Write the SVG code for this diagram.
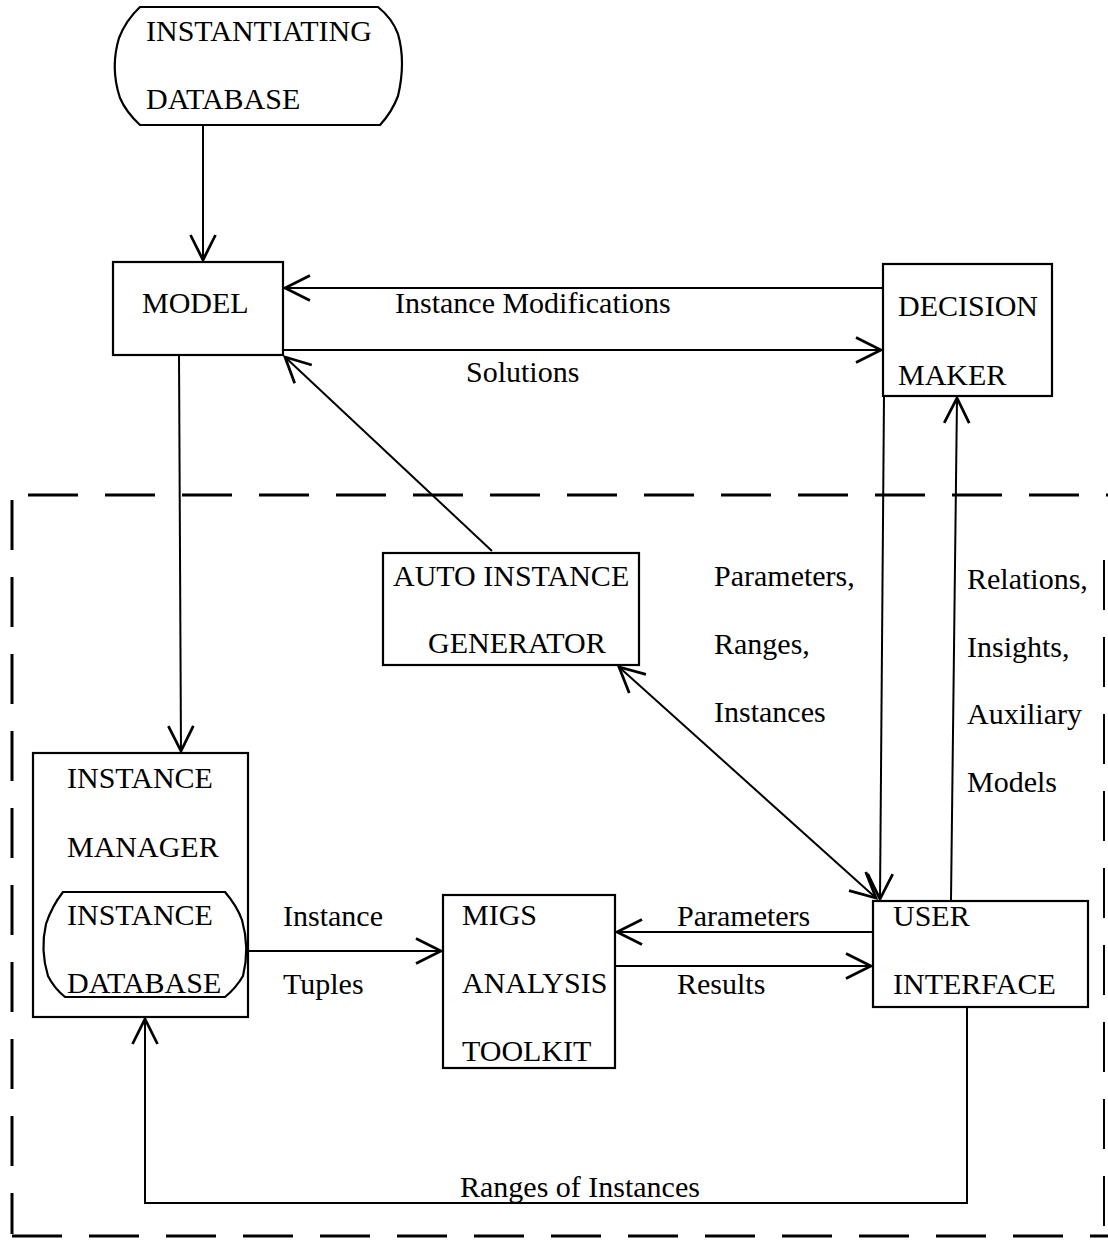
<svg xmlns="http://www.w3.org/2000/svg" width="1108" height="1242" viewBox="0 0 1108 1242">
  <style>
    .box { fill: none; stroke: #000; stroke-width: 2.2; }
    .edge { fill: none; stroke: #000; stroke-width: 2; }
    .dash { fill: none; stroke: #000; stroke-width: 3; stroke-dasharray: 50 27; }
    text { font-family: "Liberation Serif", "Times New Roman", serif; font-size: 30px; fill: #000; }
  </style>
  <defs>
    <marker id="arrow" markerUnits="userSpaceOnUse" markerWidth="30" markerHeight="30" refX="0" refY="0" viewBox="-22 -12 24 24" orient="auto-start-reverse">
      <path d="M-20,-10 L0,0 L-20,10" fill="none" stroke="#000" stroke-width="2.2"/>
    </marker>
  </defs>

  <rect width="1108" height="1242" fill="#fff"/>

  <!-- dashed boundary of the analysis subsystem -->
  <g id="boundary">
    <line class="dash" x1="28" y1="495" x2="1108" y2="495"/>
    <line class="dash" x1="12" y1="500" x2="12" y2="1234"/>
    <line class="dash" x1="12" y1="1236" x2="1108" y2="1236"/>
    <line class="dash" x1="1104" y1="560" x2="1104" y2="1234" style="stroke-width:2"/>
  </g>

  <!-- nodes -->
  <g id="instantiating-database">
    <path class="box" d="M140,7 L378,7 Q392,18 398,34 Q406,62 398,96 Q392,112 380,125 L140,125 Q126,112 120,98 Q110,68 119,38 Q126,20 140,7 Z"/>
    <text x="146" y="41">INSTANTIATING</text>
    <text x="146" y="109">DATABASE</text>
  </g>

  <g id="model">
    <rect class="box" x="113" y="262" width="170" height="93"/>
    <text x="142" y="313">MODEL</text>
  </g>

  <g id="decision-maker">
    <rect class="box" x="883" y="264" width="169" height="132"/>
    <text x="898" y="316">DECISION</text>
    <text x="898" y="385">MAKER</text>
  </g>

  <g id="auto-instance-generator">
    <rect class="box" x="383" y="553" width="256" height="112"/>
    <text x="393" y="586">AUTO INSTANCE</text>
    <text x="428" y="653">GENERATOR</text>
  </g>

  <g id="instance-manager">
    <rect class="box" x="33" y="753" width="215" height="264"/>
    <text x="67" y="788">INSTANCE</text>
    <text x="67" y="857">MANAGER</text>
    <g id="instance-database">
      <path class="box" d="M63,892 L225,892 Q237,906 242,920 Q250,948 243,976 Q236,988 225,997 L65,997 Q54,988 48,976 Q40,950 46,924 Q52,906 63,892 Z"/>
      <text x="67" y="925">INSTANCE</text>
      <text x="67" y="993">DATABASE</text>
    </g>
  </g>

  <g id="migs-analysis-toolkit">
    <rect class="box" x="443" y="895" width="172" height="173"/>
    <text x="462" y="925">MIGS</text>
    <text x="462" y="993">ANALYSIS</text>
    <text x="462" y="1061">TOOLKIT</text>
  </g>

  <g id="user-interface">
    <rect class="box" x="873" y="901" width="215" height="106"/>
    <text x="893" y="926">USER</text>
    <text x="893" y="994">INTERFACE</text>
  </g>

  <!-- connectors -->
  <g id="connectors">
    <line class="edge" x1="203" y1="125" x2="203" y2="260" marker-end="url(#arrow)"/>
    <line class="edge" x1="883" y1="288" x2="285" y2="288" marker-end="url(#arrow)"/>
    <line class="edge" x1="283" y1="350" x2="881" y2="350" marker-end="url(#arrow)"/>
    <line class="edge" x1="492" y1="551" x2="285" y2="357" marker-end="url(#arrow)"/>
    <line class="edge" x1="179" y1="355" x2="181" y2="751" marker-end="url(#arrow)"/>
    <line class="edge" x1="884" y1="396" x2="880" y2="899" marker-end="url(#arrow)"/>
    <line class="edge" x1="951" y1="900" x2="957" y2="398" marker-end="url(#arrow)"/>
    <line class="edge" x1="619" y1="667" x2="876" y2="898" marker-start="url(#arrow)" marker-end="url(#arrow)"/>
    <line class="edge" x1="248" y1="951" x2="441" y2="951" marker-end="url(#arrow)"/>
    <line class="edge" x1="873" y1="932" x2="617" y2="932" marker-end="url(#arrow)"/>
    <line class="edge" x1="615" y1="966" x2="871" y2="966" marker-end="url(#arrow)"/>
    <polyline class="edge" points="967,1007 967,1203 145,1203 145,1019" marker-end="url(#arrow)"/>
  </g>

  <!-- connector labels -->
  <g id="labels">
    <text x="395" y="313">Instance Modifications</text>
    <text x="466" y="382">Solutions</text>
    <text x="714" y="586">Parameters,</text>
    <text x="714" y="654">Ranges,</text>
    <text x="714" y="722">Instances</text>
    <text x="967" y="589">Relations,</text>
    <text x="967" y="657">Insights,</text>
    <text x="967" y="724">Auxiliary</text>
    <text x="967" y="792">Models</text>
    <text x="283" y="926">Instance</text>
    <text x="283" y="994">Tuples</text>
    <text x="677" y="926">Parameters</text>
    <text x="677" y="994">Results</text>
    <text x="460" y="1197">Ranges of Instances</text>
  </g>
</svg>
